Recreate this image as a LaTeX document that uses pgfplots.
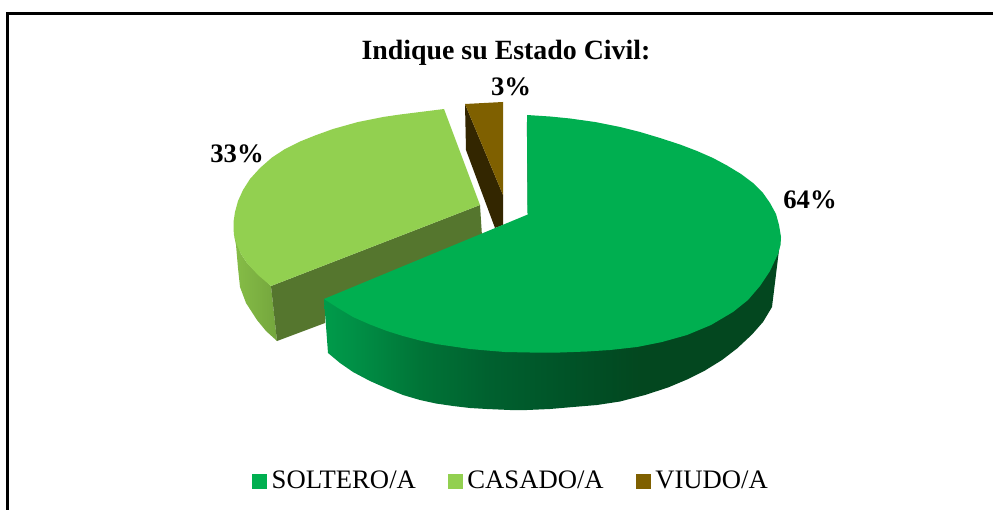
\documentclass[border=0pt]{standalone}
\usepackage{pgfplots}
\pgfplotsset{compat=1.18}
\usepackage{fontspec}
\setmainfont{Liberation Serif}
\definecolor{gTop}{HTML}{00AF50}
\definecolor{lTop}{HTML}{92D050}
\definecolor{bTop}{HTML}{7F6000}
\definecolor{bWall}{HTML}{332600}
\definecolor{lCut}{HTML}{55762E}
\definecolor{lWallA}{HTML}{86BD47}
\definecolor{lWallB}{HTML}{74A63D}
\definecolor{gEdge}{HTML}{0B4F2C}
\pgfdeclarehorizontalshading{wallgreen}{100bp}{
 rgb(0bp)=(0,0.61,0.29);
 rgb(25bp)=(0,0.61,0.29);
 rgb(28.2bp)=(0,0.565,0.275);
 rgb(35.5bp)=(0,0.455,0.215);
 rgb(42.8bp)=(0,0.38,0.185);
 rgb(50bp)=(0,0.335,0.16);
 rgb(56.6bp)=(0.005,0.295,0.135);
 rgb(59.6bp)=(0.012,0.28,0.122);
 rgb(100bp)=(0.012,0.28,0.122)}
\begin{document}
\begin{tikzpicture}
\begin{axis}[
  scale only axis, width=744.75pt, height=382.5pt,
  xmin=0, xmax=993, ymin=0, ymax=510, y dir=reverse,
  axis lines=none, clip=true,
  legend columns=3,
  legend style={at={(axis cs:510,481)},anchor=center,draw=none,fill=none,
    font=\fontsize{20pt}{22pt}\selectfont,inner sep=0pt,outer sep=0pt,
    /tikz/every even column/.append style={column sep=24pt},
    /tikz/every odd column/.append style={column sep=3.75pt},
    nodes={inner sep=0pt,outer sep=0pt}},
  legend cell align=left,
  legend image code/.code={\fill[#1] (0pt,-5.25pt) rectangle (10.5pt,5.25pt);},
]
\addlegendimage{gTop}\addlegendentry{SOLTERO/A}
\addlegendimage{lTop}\addlegendentry{CASADO/A}
\addlegendimage{bTop}\addlegendentry{VIUDO/A}
\addplot[forget plot,fill=white,draw=none] coordinates {(0,0) (993,0) (993,510) (0,510)} -- cycle;
% frame
\addplot[forget plot,black,line width=2.25pt] coordinates {(7.5,510) (7.5,13.5) (993,13.5)};
% brown slice
\addplot[forget plot,fill=bWall,draw=none] coordinates {(465,104) (466,150) (495,228) (503,225) (503,195)} -- cycle;
\addplot[forget plot,fill=bTop,draw=none] coordinates {(465,104) (503,102) (503,195)} -- cycle;
% light green slice
\addplot[forget plot,left color=lWallA,right color=lWallB,draw=none] coordinates {(234,235) (236,245) (238,268) (240,287) (246,303) (257,320) (266,331) (277,341) (271,286) (247,263) (241,254)} -- cycle;
\addplot[forget plot,fill=lCut,draw=none] coordinates {(271,286) (480,205) (482,236) (325,300) (325,323) (277,341)} -- cycle;
\addplot[forget plot,fill=lTop,draw=none] coordinates {(444,109) (420,112) (400,114.5) (383,117) (358,122) (333,129) (315,135.5) (300,141.5) (285,149) (272,157.5) (260,168) (250,179) (243,190) (238,201) (235,212) (233.5,222) (233.5,229) (234,235) (237,245) (241,254) (247,263) (258,275) (271,286) (480,205)} -- cycle;
% green slice
\addplot[forget plot,shading=wallgreen,shading angle=0,draw=none] coordinates {(324,299) (328,353) (340,363) (353,372) (370,381) (387,388.5) (403,395) (420,400) (436,403.5) (453,406) (470,408) (487,409) (510,410) (527,410) (550,409) (573,407) (597,405) (620,401.5) (645,395) (668,387.5) (687,379.5) (705,370.5) (722,360) (737,348.5) (752,334.5) (763,322) (772,307) (779,250) (781,237) (600,300)} -- cycle;
\addplot[forget plot,gEdge,line width=1pt] coordinates {(527.5,122) (528.5,213)};
\addplot[forget plot,fill=gTop,draw=none] coordinates {(527,115) (550,116.5) (570,118.5) (595,122) (620,127) (640,132) (660,138) (680,144.5) (697,151) (713,158) (727,165.5) (741,174) (753,183) (763,193) (770,203) (776,214) (779,225) (781,237) (780.5,245) (778,254) (770,271) (760,286) (748,300) (733,312) (711,325) (687,335) (662,342) (637,347) (610,350) (587,351.5) (560,352.5) (530,352.5) (505,352) (487,350.5) (470,349) (453,346.5) (436,344) (420,340.5) (403,336) (387,331) (370,324.5) (353,317) (338,308) (324,299) (529,214) (527.5,214)} -- cycle;
% texts
\node[font=\fontsize{20.9pt}{22pt}\selectfont\bfseries] at (axis cs:506,53) {Indique su Estado Civil:};
\node[font=\fontsize{20pt}{22pt}\selectfont\bfseries] at (axis cs:511,87) {3\%};
\node[font=\fontsize{20pt}{22pt}\selectfont\bfseries] at (axis cs:237,154) {33\%};
\node[font=\fontsize{20pt}{22pt}\selectfont\bfseries] at (axis cs:810,200) {64\%};
\end{axis}
\end{tikzpicture}
\end{document}
